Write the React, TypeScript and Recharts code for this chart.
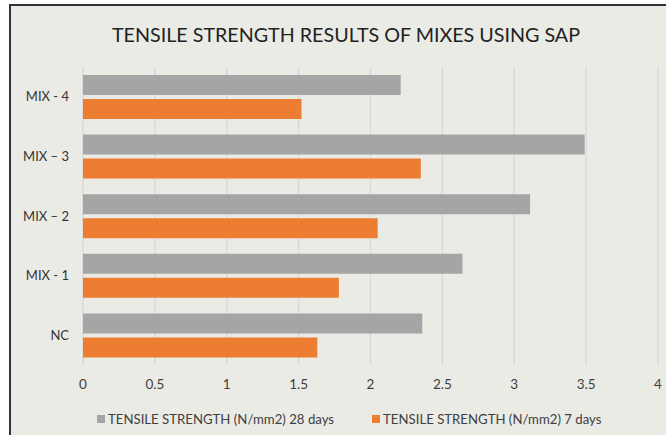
import React from 'react';
import { BarChart, Bar, XAxis, YAxis, CartesianGrid, Legend } from 'recharts';

const categories = ['MIX - 4', 'MIX – 3', 'MIX – 2', 'MIX - 1', 'NC'];
const days28 = [2.21, 3.49, 3.11, 2.64, 2.36];
const days7 = [1.52, 2.35, 2.05, 1.78, 1.63];
const xTicks = [0, 0.5, 1, 1.5, 2, 2.5, 3, 3.5, 4];

const data = categories.map((name, i) => ({ name, d28: days28[i], d7: days7[i] }));

const FONT = 'Lato, "Open Sans", sans-serif';

function LegendBox(props: any) {
  const items = props.payload || [];
  return (
    <div style={{ display: 'flex', alignItems: 'center', fontSize: 13.2, fontFamily: FONT, color: '#404040', height: 18 }}>
      {items.map((it: any, i: number) => (
        <div key={i} style={{ display: 'flex', alignItems: 'center', marginRight: 38 }}>
          <span style={{ display: 'inline-block', width: 8, height: 8, background: it.color, marginRight: 3 }} />
          <span>{it.value}</span>
        </div>
      ))}
    </div>
  );
}

export default function App() {
  return (
    <div style={{ position: 'fixed', left: 0, top: 0, width: 666, height: 435, background: '#fff', overflow: 'hidden', fontFamily: FONT }}>
      <div style={{ position: 'absolute', left: 9, top: 4, width: 720, height: 500, background: '#EBEBE6', borderLeft: '2px solid #333', borderTop: '2px solid #333' }} />
      <div style={{ position: 'absolute', left: 0, top: 23, width: 692, textAlign: 'center', fontSize: 19.7, color: '#222' }}>
        TENSILE STRENGTH RESULTS OF MIXES USING SAP
      </div>
      <BarChart
        width={666}
        height={435}
        data={data}
        layout="vertical"
        margin={{ top: 67, right: 8, bottom: 22, left: 0 }}
        barSize={20}
        barGap={4}
        style={{ position: 'absolute', left: 0, top: 0 }}
      >
        <CartesianGrid horizontal={false} stroke="#D9D9D9" strokeWidth={1.5} />
        <XAxis
          type="number"
          domain={[0, 4]}
          ticks={xTicks}
          axisLine={false}
          tickLine={false}
          height={30}
          tick={{ fill: '#404040', fontSize: 13.5, fontFamily: FONT }}
          tickMargin={8}
        />
        <YAxis
          type="category"
          dataKey="name"
          width={83}
          axisLine={false}
          tickLine={false}
          tick={{ fill: '#333', fontSize: 13, fontFamily: FONT }}
          tickMargin={8}
        />
        <Legend
          verticalAlign="bottom"
          align="left"
          content={<LegendBox />}
          wrapperStyle={{ left: 97, bottom: 7, width: 'auto' }}
        />
        <Bar dataKey="d28" name="TENSILE STRENGTH (N/mm2) 28 days" fill="#A5A5A5" isAnimationActive={false} />
        <Bar dataKey="d7" name="TENSILE STRENGTH (N/mm2) 7 days" fill="#ED7D31" isAnimationActive={false} />
      </BarChart>
    </div>
  );
}
